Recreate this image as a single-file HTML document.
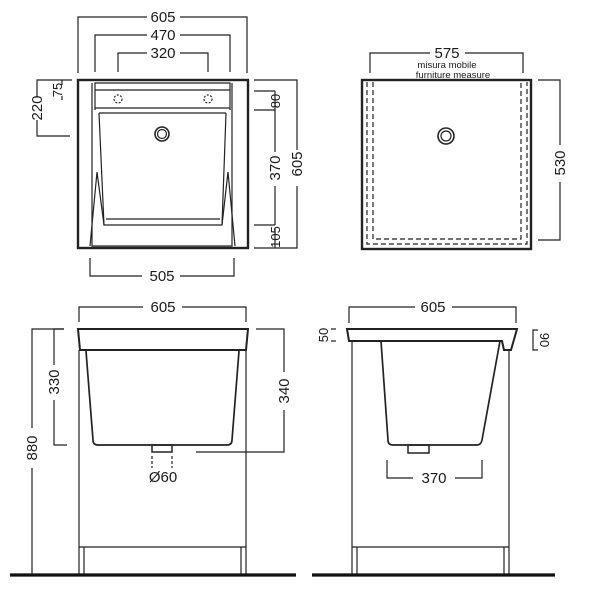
<!DOCTYPE html>
<html><head><meta charset="utf-8"><style>
body{margin:0;background:#fff}
svg{display:block}
text{font-family:"Liberation Sans",sans-serif;fill:#1a1a1a}
</style></head><body>
<svg width="600" height="600" viewBox="0 0 600 600" xmlns="http://www.w3.org/2000/svg">
<g fill="none" stroke="#222" stroke-width="1.2">
<!-- TOP LEFT -->
<rect x="78" y="80" width="170" height="168" stroke-width="2.4"/>
<polyline points="95,110 95,83 230,83 230,110"/>
<line x1="95" y1="90" x2="230" y2="90"/>
<line x1="95" y1="108" x2="230" y2="108"/>
<line x1="99" y1="113" x2="226" y2="113"/>
<circle cx="118" cy="99" r="4" stroke-dasharray="2,1.5"/>
<circle cx="208" cy="99" r="4" stroke-dasharray="2,1.5"/>
<circle cx="162" cy="134" r="7" stroke-width="1.6"/>
<circle cx="162" cy="134" r="4.5"/>
<polyline points="99,113 104,225 222,225 226,113"/>
<line x1="106" y1="219" x2="220" y2="219"/>
<polyline points="92,83 92,246 232,246 232,83"/>
<polyline points="90,246 97,172 104,225"/>
<polyline points="235,246 228,172 222,225"/>
<!-- dims top left -->
<polyline points="78,73 78,17 147,17"/><polyline points="180,17 247,17 247,73"/>
<polyline points="95,72 95,35 147,35"/><polyline points="180,35 230,35 230,72"/>
<polyline points="118,72 118,53 147,53"/><polyline points="180,53 208,53 208,72"/>
<polyline points="72,80 37,80 37,97"/><polyline points="37,120 37,136 70,136"/>
<polyline points="62,80 62,85"/><polyline points="62,96 62,100"/>
<polyline points="254,80 297,80 297,150"/><polyline points="297,186 297,248 254,248"/>
<line x1="254" y1="91" x2="275" y2="91"/><line x1="254" y1="110" x2="275" y2="110"/>
<line x1="254" y1="225" x2="275" y2="225"/>
<line x1="275" y1="91" x2="275" y2="110"/>
<line x1="275" y1="110" x2="275" y2="152"/><line x1="275" y1="186" x2="275" y2="225"/>
<line x1="275" y1="228" x2="275" y2="248"/>
<polyline points="90,258 90,276 142,276"/><polyline points="180,276 234,276 234,258"/>
<!-- TOP RIGHT -->
<rect x="362" y="80" width="169" height="169" stroke-width="2.4"/>
<g stroke-dasharray="5,3" stroke="#222">
<polyline points="367,82 367,244 527,244 527,82"/>
<polyline points="373,82 373,239 521,239 521,82"/>
</g>
<circle cx="446" cy="136" r="8" stroke-width="1.6"/><circle cx="446" cy="136" r="5"/>
<polyline points="370,73 370,53 430,53"/><polyline points="465,53 523,53 523,73"/>
<polyline points="538,80 560,80 560,145"/><polyline points="560,182 560,240 538,240"/>
<!-- BOTTOM LEFT -->
<polyline points="79,322 79,307 143,307"/><polyline points="182,307 246,307 246,322"/>
<path d="M78,329 H248 L246,350 H80 Z" stroke-width="2"/>
<path d="M86,351 L93,440 Q93,445 98,445 H227 Q232,445 232,440 L239,351" stroke-width="1.7"/>
<rect x="152" y="445" width="20" height="7" stroke-width="1.5"/>
<line x1="152" y1="456" x2="152" y2="468" stroke-dasharray="3,2"/>
<line x1="172" y1="456" x2="172" y2="468" stroke-dasharray="3,2"/>
<line x1="79" y1="350" x2="79" y2="574"/><line x1="246" y1="350" x2="246" y2="574"/>
<line x1="79" y1="547" x2="246" y2="547"/>
<line x1="84" y1="547" x2="84" y2="574"/><line x1="241" y1="547" x2="241" y2="574"/>
<polyline points="64,329 32,329 32,428"/><line x1="32" y1="468" x2="32" y2="574"/>
<polyline points="64,329 54,329 54,365"/><polyline points="54,400 54,445 67,445"/>
<polyline points="256,329 284,329 284,372"/><polyline points="284,410 284,452 196,452"/>
<line x1="10" y1="575" x2="296" y2="575" stroke-width="3.2" stroke="#111"/>
<!-- BOTTOM RIGHT -->
<polyline points="349,323 349,307 415,307"/><polyline points="452,307 516,307 516,323"/>
<path d="M347,329 H517 L511,350 H504 L502,341 H349 Z" stroke-width="2"/>
<path d="M381,341 L388,440 Q388,445 393,445 H477 Q481,445 482,440 L500,341" stroke-width="1.7"/>
<rect x="408" y="445" width="21" height="8" stroke-width="1.5"/>
<line x1="352" y1="341" x2="352" y2="574"/><line x1="509" y1="350" x2="509" y2="574"/>
<line x1="352" y1="547" x2="509" y2="547"/>
<line x1="357" y1="547" x2="357" y2="574"/><line x1="504" y1="547" x2="504" y2="574"/>
<polyline points="387,460 387,478 413,478"/><polyline points="455,478 482,478 482,460"/>
<line x1="331" y1="329" x2="336" y2="329"/><line x1="331" y1="341" x2="336" y2="341"/>
<polyline points="538,330 533,330 533,350 538,350"/>
<line x1="312" y1="575" x2="555" y2="575" stroke-width="3.2" stroke="#111"/>
</g>
<g font-size="15" text-anchor="middle">
<text x="163" y="22">605</text>
<text x="163" y="40">470</text>
<text x="163" y="58">320</text>
<text x="162" y="281">505</text>
<text transform="translate(42,108) rotate(-90)">220</text>
<text transform="translate(62,90) rotate(-90)" font-size="13">75</text>
<text transform="translate(280,101) rotate(-90)" font-size="13">80</text>
<text transform="translate(280,168) rotate(-90)">370</text>
<text transform="translate(280,237) rotate(-90)" font-size="13">105</text>
<text transform="translate(302,164) rotate(-90)">605</text>
<text x="447" y="58">575</text>
<text x="447" y="68" font-size="9.5">misura mobile</text>
<text x="453" y="78" font-size="9.5">furniture measure</text>
<text transform="translate(565,163) rotate(-90)">530</text>
<text x="163" y="312">605</text>
<text transform="translate(59,382) rotate(-90)">330</text>
<text transform="translate(37,448) rotate(-90)">880</text>
<text transform="translate(289,391) rotate(-90)">340</text>
<text x="163" y="482">Ø60</text>
<text x="433" y="312">605</text>
<text x="434" y="483">370</text>
<text transform="translate(328,335) rotate(-90)" font-size="13">50</text>
<text transform="translate(540,340) rotate(90)" font-size="13">90</text>
</g>
</svg>
</body></html>
